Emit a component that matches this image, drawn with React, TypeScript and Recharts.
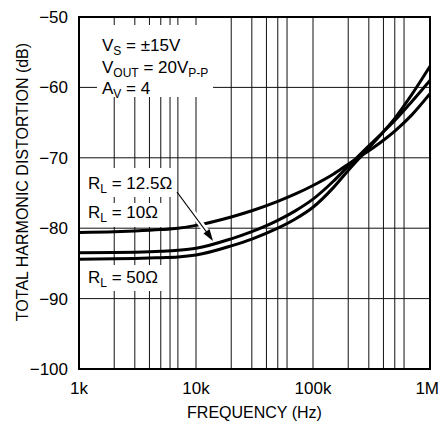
import React from 'react';
import { LineChart, Line, XAxis, YAxis, CartesianGrid, ReferenceArea } from 'recharts';

// frequency points (Hz) and THD (dB)
const FREQ = [1000, 2000, 3000, 5000, 7000, 10000, 20000, 30000, 50000, 70000, 100000, 150000, 200000, 300000, 400000, 500000, 700000, 1000000];
const THD_10 = [-80.6, -80.51, -80.4, -80.2, -80.0, -79.6, -78.4, -77.52, -76.19, -75.17, -73.93, -72.3, -70.9, -69.0, -67.5, -66.2, -63.9, -60.9];
const THD_12_5 = [-83.5, -83.45, -83.4, -83.28, -83.14, -82.86, -81.51, -80.49, -78.89, -77.57, -75.87, -73.3, -71.2, -68.3, -66.3, -64.7, -62.0, -59.0];
const THD_50 = [-84.4, -84.35, -84.3, -84.18, -84.09, -83.81, -82.51, -81.54, -79.99, -78.72, -77.02, -74.2, -71.8, -68.6, -66.3, -64.4, -61.0, -57.0];

const X_TICKS = [1000, 10000, 100000, 1000000];
const X_TICK_LABELS = ['1k', '10k', '100k', '1M'];
const Y_TICKS = [-100, -90, -80, -70, -60, -50];
const GRID_DECADES = [1000, 10000, 100000];
const GRID_STEPS = [1, 2, 3, 4, 5, 6, 7, 8, 9];

const data = FREQ.map((f, i) => ({ f, r10: THD_10[i], r12: THD_12_5[i], r50: THD_50[i] }));
const verticalGrid = [...GRID_DECADES.flatMap((d) => GRID_STEPS.map((s) => s * d)), 1000000];

const FONT = "'Liberation Sans', Arial, Helvetica, sans-serif";

const Sub: React.FC<{ children: React.ReactNode }> = ({ children }) => (
  <tspan fontSize={12} dy={4}>{children}</tspan>
);

const Overlay: React.FC = () => (
  <svg width={439} height={421} style={{ position: 'absolute', left: 0, top: 0, pointerEvents: 'none' }}
    fontFamily={FONT} fill="#000">
    <rect x={97} y={25} width={116} height={72} fill="#fff" />
    <rect x={84} y={168} width={92} height={29} fill="#fff" />
    <rect x={84} y={203} width={82} height={24} fill="#fff" />
    <rect x={84} y={265} width={78} height={26} fill="#fff" />

    <text x={102} y={51} fontSize={17}>V<Sub>S</Sub><tspan dy={-4}> = ±15V</tspan></text>
    <text x={102} y={73} fontSize={17}>V<Sub>OUT</Sub><tspan dy={-4}> = 20V</tspan><Sub>P-P</Sub></text>
    <text x={102} y={94} fontSize={17}>A<Sub>V</Sub><tspan dy={-4}> = 4</tspan></text>

    <text x={88} y={189} fontSize={17}>R<Sub>L</Sub><tspan dy={-4}> = 12.5Ω</tspan></text>
    <text x={88} y={218} fontSize={17}>R<Sub>L</Sub><tspan dy={-4}> = 10Ω</tspan></text>
    <text x={88} y={283} fontSize={17}>R<Sub>L</Sub><tspan dy={-4}> = 50Ω</tspan></text>

    {/* arrow to the 12.5 ohm curve, white halo cuts the 10 ohm curve */}
    <line x1={193} x2={206} y1={213} y2={231} stroke="#fff" strokeWidth={6} />
    <line x1={177} y1={192} x2={208} y2={234} stroke="#000" strokeWidth={1.2} />
    <polygon points="213,241 203.5,233.5 209.5,229" fill="#000" />

    <text x={28} y={182} fontSize={16} textAnchor="middle" transform="rotate(-90, 28, 182)">
      TOTAL HARMONIC DISTORTION (dB)
    </text>
    <text x={254.5} y={418} fontSize={16} textAnchor="middle">FREQUENCY (Hz)</text>
  </svg>
);

export default function App() {
  return (
    <div style={{ position: 'absolute', left: 0, top: 0, width: 439, height: 421, background: '#fff' }}>
      <LineChart width={439} height={421} data={data} margin={{ top: 17, right: 9, bottom: 0, left: 0 }}>
        <CartesianGrid stroke="#111" strokeWidth={1} verticalValues={verticalGrid} />
        <XAxis dataKey="f" type="number" scale="log" domain={[1000, 1000000]} ticks={X_TICKS}
          tickFormatter={(v: number) => X_TICK_LABELS[X_TICKS.indexOf(v)] ?? ''}
          height={52} tickLine={false} axisLine={false} tickSize={0} tickMargin={13}
          tick={{ fill: '#000', fontSize: 17, fontFamily: FONT }} allowDataOverflow />
        <YAxis type="number" domain={[-100, -50]} ticks={Y_TICKS} width={79}
          tickFormatter={(v: number) => (v < 0 ? '\u2212' + Math.abs(v) : String(v))}
          tickLine={false} axisLine={false} tickSize={0} tickMargin={11}
          tick={{ fill: '#000', fontSize: 17, fontFamily: FONT }} allowDataOverflow />
        <ReferenceArea x1={1000} x2={1000000} y1={-100} y2={-50} fill="none" stroke="#000" strokeWidth={2} />
        <Line dataKey="r10" type="monotone" stroke="#000" strokeWidth={3} dot={false} isAnimationActive={false} />
        <Line dataKey="r12" type="monotone" stroke="#000" strokeWidth={3} dot={false} isAnimationActive={false} />
        <Line dataKey="r50" type="monotone" stroke="#000" strokeWidth={3} dot={false} isAnimationActive={false} />
      </LineChart>
      <Overlay />
    </div>
  );
}
